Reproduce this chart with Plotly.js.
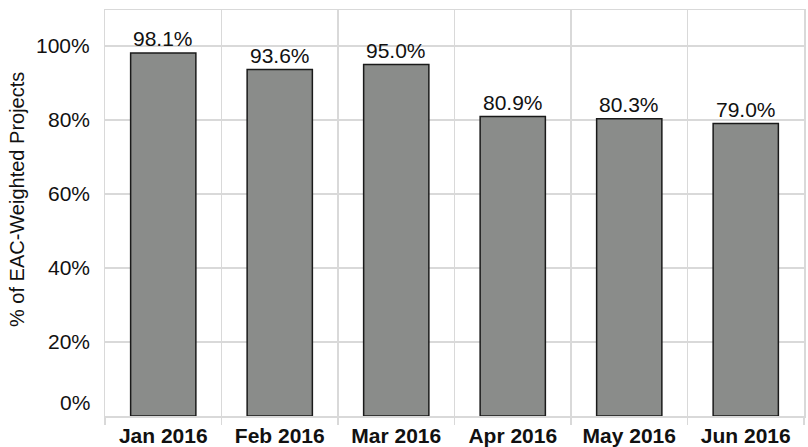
<!DOCTYPE html>
<html>
<head>
<meta charset="utf-8">
<script src="https://cdn.plot.ly/plotly-3.0.1.min.js"></script>
<style>html,body{margin:0;padding:0;background:#fff;}#chart{width:808px;height:447px;}</style>
</head>
<body>
<div id="chart"></div>
<script>
const months = ["Jan 2016", "Feb 2016", "Mar 2016", "Apr 2016", "May 2016", "Jun 2016"];
const values = [98.1, 93.6, 95.0, 80.9, 80.3, 79.0];
const yTickVals = [0, 20, 40, 60, 80, 100];
const yTickText = ["0%", "20%", "40%", "60%", "80%", "100%"];

const font = "Liberation Sans, Arial, sans-serif";

const trace = {
  type: "bar",
  x: months,
  y: values,
  width: 0.56,
  marker: {color: "#8a8c8a", line: {color: "#1a1a1a", width: 1.5}},
  hoverinfo: "none"
};

const tickAnnotations = yTickVals.map((v, i) => ({
  x: 0, xref: "paper", y: v, yref: "y",
  text: yTickText[i], showarrow: false,
  xanchor: "right", yanchor: "middle",
  xshift: -13, yshift: v === 0 ? 14 : 0,
  font: {family: font, size: 21, color: "#111"}
}));

const barAnnotations = months.map((m, i) => ({
  x: m, xref: "x", y: values[i], yref: "y",
  text: values[i].toFixed(1) + "%", showarrow: false,
  xanchor: "center", yanchor: "middle", yshift: 14,
  font: {family: font, size: 21, color: "#111"}
}));

const titleAnnotation = {
  x: 0, xref: "paper", y: 0.532, yref: "paper",
  text: "% of EAC-Weighted Projects", showarrow: false,
  textangle: -90, xanchor: "center", yanchor: "middle", xshift: -88,
  font: {family: font, size: 20, color: "#111"}
};

const layout = {
  width: 808, height: 447,
  margin: {l: 105, r: 4, t: 10, b: 31},
  paper_bgcolor: "#fff", plot_bgcolor: "#fff",
  showlegend: false,
  font: {family: font, color: "#111"},
  xaxis: {
    type: "category",
    tickson: "boundaries",
    showgrid: true, gridcolor: "#d9d9d9", gridwidth: 1.5,
    ticks: "outside", ticklen: 7, tickcolor: "#d9d9d9", tickwidth: 1.5,
    showline: true, linecolor: "#d9d9d9", linewidth: 1.5, mirror: true,
    tickfont: {family: font, size: 21, color: "#111", weight: "bold"},
    ticklabelstandoff: 0
  },
  yaxis: {
    range: [0, 109.7],
    tickvals: yTickVals,
    showticklabels: false,
    showgrid: true, gridcolor: "#d9d9d9", gridwidth: 1.5,
    zeroline: false,
    showline: true, linecolor: "#d9d9d9", linewidth: 1.5, mirror: true
  },
  annotations: tickAnnotations.concat(barAnnotations, [titleAnnotation])
};

Plotly.newPlot("chart", [trace], layout, {displayModeBar: false, staticPlot: true});
</script>
</body>
</html>
